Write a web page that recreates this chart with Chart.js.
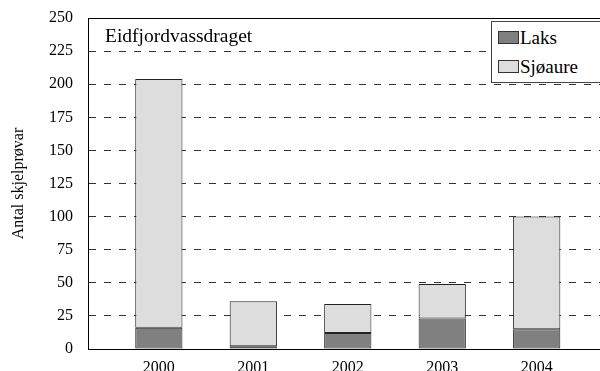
<!DOCTYPE html>
<html><head><meta charset="utf-8">
<script src="https://cdn.jsdelivr.net/npm/chart.js@4"></script>
<style>
html,body{margin:0;padding:0;background:#fff;}
#wrap{position:relative;width:600px;height:371px;overflow:hidden;font-family:"Liberation Serif","Times New Roman",serif;}
canvas{position:absolute;left:0;top:0;}
.ov{position:absolute;white-space:nowrap;line-height:1;color:#000;font-family:"Liberation Serif","Times New Roman",serif;}
#legend{position:absolute;left:491px;top:21px;width:140px;height:60px;border:1px solid #444;background:#fff;}
.sw{position:absolute;width:19px;height:11px;border:1px solid #333;}
.lt{position:absolute;white-space:nowrap;line-height:1;font-size:19px;color:#000;font-family:"Liberation Serif","Times New Roman",serif;}
</style></head><body>
<div id="wrap"><canvas id="c" width="600" height="371"></canvas>
<div id="title" class="ov" style="left:105px;top:26px;font-size:19.5px;"></div>
<div id="legend"></div>
</div>
<script>
const years = [2000, 2001, 2002, 2003, 2004];
const laks = [16, 2, 12, 23, 15];
const sjoaure = [188, 34, 22, 26, 85];
const seriesNames = ['Laks', 'Sjøaure'];
const seriesColors = ['#808080', '#dddddd'];
const yMin = 0, yMax = 250, yStep = 25;
const chartTitle = 'Eidfjordvassdraget';
const yTitle = 'Antal skjelprøvar';

document.getElementById('title').textContent = chartTitle;
const leg = document.getElementById('legend');
seriesNames.forEach((n, i) => {
  const sw = document.createElement('div');
  sw.className = 'sw';
  sw.style.left = '6px';
  sw.style.top = (9 + i * 29) + 'px';
  sw.style.background = seriesColors[i];
  leg.appendChild(sw);
  const t = document.createElement('div');
  t.className = 'lt';
  t.style.left = '28px';
  t.style.top = (6 + i * 29) + 'px';
  t.textContent = n;
  leg.appendChild(t);
});

const font = {family: '"Liberation Serif","Times New Roman",serif', size: 16};
const ds = [laks, sjoaure].map((arr, i) => ({
  label: seriesNames[i],
  data: arr.map((v, j) => ({x: years[j], y: v})),
  backgroundColor: seriesColors[i],
  borderColor: '#222',
  borderWidth: 1,
  borderSkipped: false,
  barPercentage: 0.5,
  categoryPercentage: 1.0
}));

const framePlugin = {
  id: 'frame',
  beforeDatasetsDraw(chart) {
    const {ctx, chartArea: a} = chart;
    ctx.save();
    ctx.strokeStyle = '#000';
    ctx.lineWidth = 1;
    ctx.beginPath();
    ctx.moveTo(Math.round(a.left) + 0.5, Math.round(a.bottom) + 0.5);
    ctx.lineTo(Math.round(a.left) + 0.5, Math.round(a.top) + 0.5);
    ctx.lineTo(a.right, Math.round(a.top) + 0.5);
    ctx.moveTo(Math.round(a.left), Math.round(a.bottom) + 0.5);
    ctx.lineTo(a.right, Math.round(a.bottom) + 0.5);
    ctx.stroke();
    ctx.restore();
  }
};

new Chart(document.getElementById('c'), {
  type: 'bar',
  data: {datasets: ds},
  plugins: [framePlugin],
  options: {
    responsive: false,
    animation: false,
    devicePixelRatio: 1,
    layout: {padding: {top: 18, left: 0, right: 0, bottom: 0}},
    plugins: {legend: {display: false}, tooltip: {enabled: false}},
    scales: {
      x: {
        type: 'linear', position: 'bottom', stacked: true, offset: false,
        min: 1999.25, max: 2004.67,
        afterBuildTicks: s => { s.ticks = years.map(v => ({value: v})); },
        afterFit: s => { s.height = 22; s.paddingLeft = 0; s.paddingRight = 0; },
        ticks: {autoSkip: false, maxRotation: 0, font: font, color: '#000', padding: 9,
                callback: v => String(v)},
        grid: {display: true, drawOnChartArea: false, drawTicks: false},
        border: {display: true, color: '#000', width: 1}
      },
      y: {
        stacked: true, min: yMin, max: yMax,
        afterFit: s => { s.width = 88; s.paddingTop = 0; s.paddingBottom = 0; },
        ticks: {stepSize: yStep, font: font, color: '#000', padding: 15},
        grid: {color: '#333', lineWidth: 1, drawTicks: false},
        border: {display: true, color: '#000', width: 1, dash: [7, 8]},
        title: {display: true, text: yTitle, font: font, color: '#000', padding: {top: 9, bottom: 0}}
      }
    }
  }
});
</script>
</body></html>
